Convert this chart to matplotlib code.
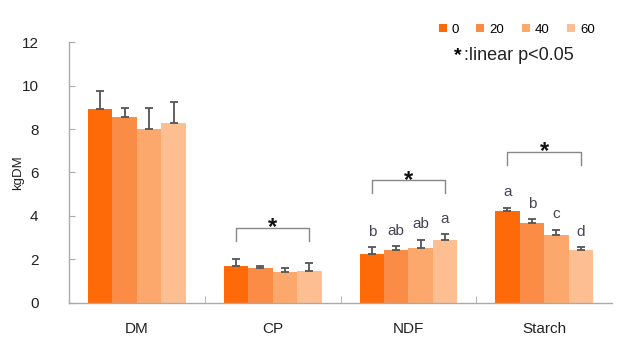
import numpy as np
import matplotlib.pyplot as plt
from matplotlib.patches import Patch

plt.rcParams['font.family'] = ['Liberation Sans', 'DejaVu Sans']

categories = ['DM', 'CP', 'NDF', 'Starch']
levels = ['0', '20', '40', '60']

# means (kg DM) per level, one list per category
means = {
    'DM': [8.94, 8.55, 8.02, 8.28],
    'CP': [1.70, 1.63, 1.43, 1.47],
    'NDF': [2.27, 2.45, 2.55, 2.88],
    'Starch': [4.23, 3.68, 3.11, 2.42],
}
errors = {
    'DM': [0.80, 0.43, 0.95, 0.95],
    'CP': [0.30, 0.07, 0.20, 0.38],
    'NDF': [0.30, 0.18, 0.36, 0.30],
    'Starch': [0.16, 0.17, 0.26, 0.16],
}
letters = {
    'NDF': ['b', 'ab', 'ab', 'a'],
    'Starch': ['a', 'b', 'c', 'd'],
}
# categories with a significant linear trend and height of the bracket
linear_sig = ['CP', 'NDF', 'Starch']
bracket_y = [3.45, 5.64, 6.95]

colors = ['#ff6a08', '#fb8c45', '#fca86c', '#fdbf92']

fig = plt.figure(figsize=(6.31, 3.46), dpi=100)
ax = fig.add_axes([0.1094, 0.1243, 0.8605, 0.7543])

x = np.arange(len(categories))
w = 0.18
for i, lv in enumerate(levels):
    vals = np.array([means[c][i] for c in categories])
    errs = np.array([errors[c][i] for c in categories])
    pos = x + (i - 1.5) * w
    ax.bar(pos, vals, width=w, color=colors[i], label=lv, zorder=2)
    ax.errorbar(pos, vals, yerr=[np.zeros_like(errs), errs], fmt='none',
                ecolor='#555555', elinewidth=1.3, capsize=3, capthick=1.3, zorder=3)

# significance letters above the error bars
for c, labs in letters.items():
    ci = categories.index(c)
    for i, lab in enumerate(labs):
        top = means[c][i] + errors[c][i]
        ax.text(ci + (i - 1.5) * w, top + 0.7, lab, ha='center', va='center',
                fontsize=11, color='#444455')

# brackets with asterisk for linear effect
for c, by in zip(linear_sig, bracket_y):
    ci = categories.index(c)
    x0, x1 = ci - 1.5 * w, ci + 1.5 * w
    ax.plot([x0, x0, x1, x1], [by - 0.6, by, by, by - 0.6], color='#888888', lw=1.0)
    ax.text(ci, by, '*', ha='center', va='center', fontsize=17,
            fontweight='bold', color='#111111')

ax.set_xlim(-0.5, 3.5)
ax.set_ylim(0, 12)
ax.set_yticks(np.arange(0, 13, 2))
ax.set_xticks(x)
ax.set_xticklabels(categories, fontsize=11)
ax.set_xticks([0.5, 1.5, 2.5], minor=True)
ax.tick_params(axis='x', which='major', length=0, pad=14, colors='#222222')
ax.tick_params(axis='x', which='minor', direction='in', length=5, color='#aaaaaa')
ax.tick_params(axis='y', direction='in', length=4, color='#aaaaaa', pad=22,
               labelsize=11, labelcolor='#222222')
for s in ['top', 'right']:
    ax.spines[s].set_visible(False)
for s in ['left', 'bottom']:
    ax.spines[s].set_color('#aaaaaa')
    ax.spines[s].set_linewidth(1.0)

ax.set_ylabel('kgDM', fontsize=9.5, color='#222222', labelpad=-2)

handles = [Patch(facecolor=col, label=lv) for col, lv in zip(colors, levels)]
ax.legend(handles=handles, ncol=4, frameon=False, fontsize=9.5,
          loc='upper right', bbox_to_anchor=(0.985, 1.105),
          handlelength=0.6, handleheight=0.6, handletextpad=0.4, columnspacing=1.3,
          borderpad=0.2)
fig.text(0.726, 0.84, '*', fontsize=14, fontweight='bold', ha='center', va='center')
fig.text(0.736, 0.84, ':linear p<0.05', fontsize=13, ha='left', va='center', color='#222222')

fig.savefig('out.png', dpi=100)
